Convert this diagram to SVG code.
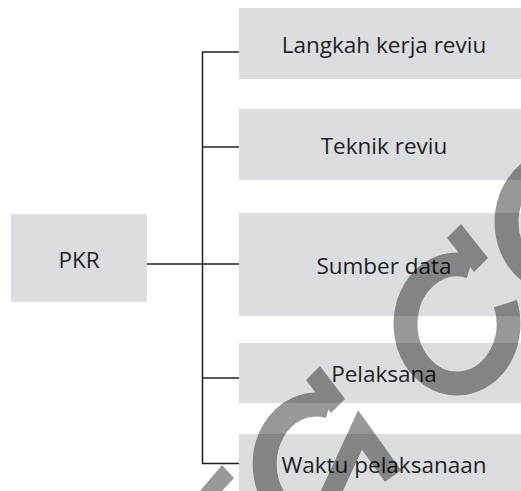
<svg xmlns="http://www.w3.org/2000/svg" width="521" height="491" viewBox="0 0 521 491">
  <style>
    .box { fill: #dcdde0; }
    .lbl { font-family: "Open Sans", "Liberation Sans", sans-serif; font-size: 22.5px; fill: #231f20; text-anchor: middle; }
    .wire { fill: none; stroke: #231f20; stroke-width: 1.5; }
    .arc { fill: none; stroke: #000; stroke-width: 24; }
    .solid { fill: #000; }
  </style>
  <rect width="521" height="491" fill="#fff"/>

  <!-- connectors: trunk line and branches -->
  <g id="connectors">
    <path class="wire" d="M147 264H239"/>
    <path class="wire" d="M239 52H202.5V463.5H239"/>
    <path class="wire" d="M202.5 147H239"/>
    <path class="wire" d="M202.5 378H239"/>
  </g>

  <g id="node-pkr">
    <rect class="box" x="11" y="214" width="136" height="88"/>
    <text class="lbl" x="79" y="268">PKR</text>
  </g>
  <g id="node-langkah">
    <rect class="box" x="239" y="8" width="290" height="71"/>
    <text class="lbl" x="384" y="53">Langkah kerja reviu</text>
  </g>
  <g id="node-teknik">
    <rect class="box" x="239" y="109" width="290" height="71"/>
    <text class="lbl" x="384" y="154">Teknik reviu</text>
  </g>
  <g id="node-sumber">
    <rect class="box" x="239" y="213" width="290" height="103"/>
    <text class="lbl" x="384" y="274">Sumber data</text>
  </g>
  <g id="node-pelaksana">
    <rect class="box" x="239" y="343" width="290" height="60"/>
    <text class="lbl" x="384" y="382">Pelaksana</text>
  </g>
  <g id="node-waktu">
    <rect class="box" x="239" y="434" width="290" height="70"/>
    <text class="lbl" x="384" y="473">Waktu pelaksanaan</text>
  </g>

  <!-- translucent circular-arrow overlay -->
  <g id="overlay" opacity="0.4">
    <path class="arc" d="M505.4 303.6A51.5 59.5 0 1 1 470.3 266.5"/>
    <polygon class="solid" points="447,238 461,224 488,258 474,272"/>
    <path class="arc" d="M528.4 270.7A51.5 59.5 0 0 1 540.4 166.1"/>
    <path class="arc" d="M276.5 502A51.5 59.5 0 0 1 329.3 406.5"/>
    <polygon class="solid" points="306,380 320,366 345,399 331,413"/>
    <polyline points="330,495 360,430 393,476" fill="none" stroke="#000" stroke-width="20" stroke-linejoin="miter"/>
    <polygon class="solid" points="200,491 222,465 234,478 222,491"/>
  </g>
</svg>
